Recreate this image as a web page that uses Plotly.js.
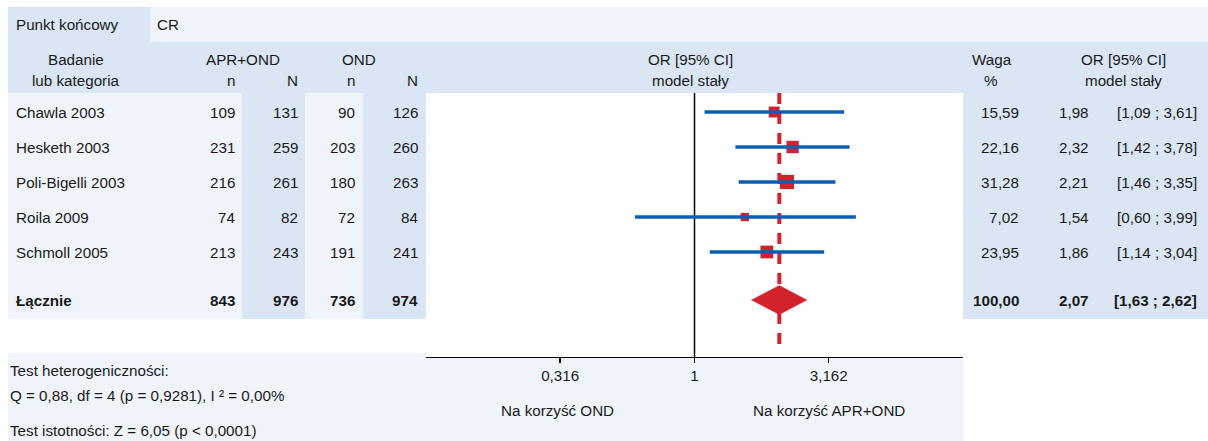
<!DOCTYPE html>
<html>
<head>
<meta charset="utf-8">
<script src="https://cdn.plot.ly/plotly-3.0.1.min.js"></script>
<style>html,body{margin:0;padding:0;background:#fff;}#chart{width:1208px;height:441px;}</style>
</head>
<body>
<div id="chart"></div>
<script>
// ---------- data ----------
const studies   = ["Chawla 2003", "Hesketh 2003", "Poli-Bigelli 2003", "Roila 2009", "Schmoll 2005"];
const n_apr     = [109, 231, 216, 74, 213];
const N_apr     = [131, 259, 261, 82, 243];
const n_ond     = [90, 203, 180, 72, 191];
const N_ond     = [126, 260, 263, 84, 241];
const weights   = [15.59, 22.16, 31.28, 7.02, 23.95];
const orEst     = [1.98, 2.32, 2.21, 1.54, 1.86];
const ciLow     = [1.09, 1.42, 1.46, 0.60, 1.14];
const ciHigh    = [3.61, 3.78, 3.35, 3.99, 3.04];
const totalLabel = "Łącznie";
const total_n_apr = 843, total_N_apr = 976, total_n_ond = 736, total_N_ond = 974;
const totalWeight = 100.00;
const pooledOR = 2.07, pooledLow = 1.63, pooledHigh = 2.62;
const tickVals  = [0.316, 1, 3.162];
const tickText  = ["0,316", "1", "3,162"];
const endpointLabel = "Punkt końcowy", endpointValue = "CR";
const hetLine1 = "Test heterogeniczności:";
const hetLine2 = "Q = 0,88, df = 4 (p = 0,9281), I ² = 0,00%";
const sigLine  = "Test istotności: Z = 6,05 (p < 0,0001)";
const favLeft = "Na korzyść OND", favRight = "Na korzyść APR+OND";

// ---------- layout helpers ----------
const W = 1208, H = 441;
const ROW0 = 112, ROWH = 35;           // pixel of first row, row spacing
const POOLED_POS = (300 - ROW0) / ROWH;
const px = x => x / W;
const py = y => 1 - y / H;
const yi = y => (y - ROW0) / ROWH;     // pixel -> row index units
const fmt = (v, d) => v.toFixed(d).replace('.', ',');
const FONT = "Liberation Sans, Arial, sans-serif";
const FS = 15.2;
const TXT = "#1a1a1a";
const DARK = "#dae6f3", LIGHT = "#eff4fa";
const RED = "#d2232d", BLUE = "#0a5fb0";

const shapes = [];
function rect(x0, y0, x1, y1, color) {
  shapes.push({type: "rect", xref: "paper", yref: "paper", x0: px(x0), x1: px(x1), y0: py(y1), y1: py(y0),
    fillcolor: color, line: {width: 0}, layer: "below"});
}
rect(8, 7, 150, 42, DARK);
rect(150, 7, W, 42, LIGHT);
rect(8, 42, W, 93, DARK);
rect(8, 93, 426, 319, LIGHT);
rect(242, 93, 305, 319, DARK);
rect(363, 93, 426, 319, DARK);
rect(963, 93, W, 319, DARK);
rect(8, 353, 426, H, LIGHT);
rect(426, 357, 963, H, LIGHT);

const ann = [];
function txt(text, x, y, anchor, opts) {
  opts = opts || {};
  const shift = anchor === "left" ? -2 : (anchor === "right" ? 2 : 0);
  ann.push({text: opts.bold ? "<b>" + text + "</b>" : text, x: px(x), xref: "paper", xshift: shift,
    y: opts.rowY !== undefined ? opts.rowY : py(y), yref: opts.rowY !== undefined ? "y" : "paper",
    xanchor: anchor, yanchor: "middle", showarrow: false,
    font: {family: FONT, size: FS, color: TXT}});
}
// top bar
txt(endpointLabel, 16, 25, "left");
txt(endpointValue, 157, 25, "left");
// header
txt("Badanie", 76, 59, "center");
txt("lub kategoria", 76, 80, "center");
txt("APR+OND", 243, 59, "center");
txt("n", 235, 80, "right");
txt("N", 298, 80, "right");
txt("OND", 359, 59, "center");
txt("n", 355, 80, "right");
txt("N", 418, 80, "right");
txt("OR [95% CI]", 691, 59, "center");
txt("model stały", 691, 80, "center");
txt("Waga", 992, 59, "center");
txt("%", 991, 80, "center");
txt("OR [95% CI]", 1123, 59, "center");
txt("model stały", 1123, 80, "center");
// rows
studies.forEach((s, i) => {
  txt(s, 16, 0, "left", {rowY: i});
  txt(String(n_apr[i]), 235, 0, "right", {rowY: i});
  txt(String(N_apr[i]), 298, 0, "right", {rowY: i});
  txt(String(n_ond[i]), 355, 0, "right", {rowY: i});
  txt(String(N_ond[i]), 418, 0, "right", {rowY: i});
  txt(fmt(weights[i], 2), 1019, 0, "right", {rowY: i});
  txt(fmt(orEst[i], 2), 1089, 0, "right", {rowY: i});
  txt("[" + fmt(ciLow[i], 2) + " ; " + fmt(ciHigh[i], 2) + "]", 1197, 0, "right", {rowY: i});
});
// total
txt(totalLabel, 16, 0, "left", {rowY: POOLED_POS, bold: true});
txt(String(total_n_apr), 235, 0, "right", {rowY: POOLED_POS, bold: true});
txt(String(total_N_apr), 298, 0, "right", {rowY: POOLED_POS, bold: true});
txt(String(total_n_ond), 355, 0, "right", {rowY: POOLED_POS, bold: true});
txt(String(total_N_ond), 418, 0, "right", {rowY: POOLED_POS, bold: true});
txt(fmt(totalWeight, 2), 1019, 0, "right", {rowY: POOLED_POS, bold: true});
txt(fmt(pooledOR, 2), 1089, 0, "right", {rowY: POOLED_POS, bold: true});
txt("[" + fmt(pooledLow, 2) + " ; " + fmt(pooledHigh, 2) + "]", 1197, 0, "right", {rowY: POOLED_POS, bold: true});
// bottom
txt(hetLine1, 10, 370, "left");
txt(hetLine2, 10, 395, "left");
txt(sigLine, 10, 430, "left");
txt(favLeft, 557, 410, "center");
txt(favRight, 829, 410, "center");

// ---------- traces ----------
const rows = studies.map((_, i) => i);
const traces = [];
// reference line at OR = 1
traces.push({x: [1, 1], y: [yi(93), yi(357)], mode: "lines", line: {color: "#000", width: 1.5},
  hoverinfo: "skip", showlegend: false});
// pooled dashed line
traces.push({x: [pooledOR, pooledOR], y: [yi(93), yi(352)], mode: "lines",
  line: {color: RED, width: 4, dash: "11px,9px"}, hoverinfo: "skip", showlegend: false});
// squares
traces.push({x: orEst, y: rows, mode: "markers", type: "scatter",
  marker: {symbol: "square", color: RED, opacity: 1, size: weights.map(w => 3 + 2 * Math.sqrt(w)), line: {width: 0}},
  hoverinfo: "skip", showlegend: false});
// CI lines
const cx = [], cy = [];
rows.forEach(i => { cx.push(ciLow[i], ciHigh[i], null); cy.push(i, i, null); });
traces.push({x: cx, y: cy, mode: "lines", line: {color: BLUE, width: 3.5}, hoverinfo: "skip", showlegend: false});
// diamond
const dh = 14.5 / ROWH;
traces.push({x: [pooledLow, pooledOR, pooledHigh, pooledOR, pooledLow],
  y: [POOLED_POS, POOLED_POS - dh, POOLED_POS, POOLED_POS + dh, POOLED_POS],
  mode: "lines", fill: "toself", fillcolor: RED, line: {color: RED, width: 0.5},
  hoverinfo: "skip", showlegend: false});

const layout = {
  width: W, height: H,
  margin: {l: 0, r: 0, t: 0, b: 0},
  paper_bgcolor: "#ffffff", plot_bgcolor: "rgba(0,0,0,0)",
  showlegend: false,
  xaxis: {type: "log", range: [-1, 1], domain: [px(426), px(963)], anchor: "free", position: py(356.5),
    showgrid: false, zeroline: false, showline: true, linecolor: "#000", linewidth: 1.5,
    ticks: "outside", ticklen: 5, tickwidth: 1.5, tickcolor: "#000",
    tickvals: tickVals, ticktext: tickText,
    tickfont: {family: FONT, size: FS, color: TXT}, fixedrange: true},
  yaxis: {range: [yi(H), yi(0)], domain: [0, 1], visible: false, showgrid: false, zeroline: false, fixedrange: true},
  shapes: shapes,
  annotations: ann
};
Plotly.newPlot("chart", traces, layout, {staticPlot: true, displayModeBar: false});
</script>
</body>
</html>
